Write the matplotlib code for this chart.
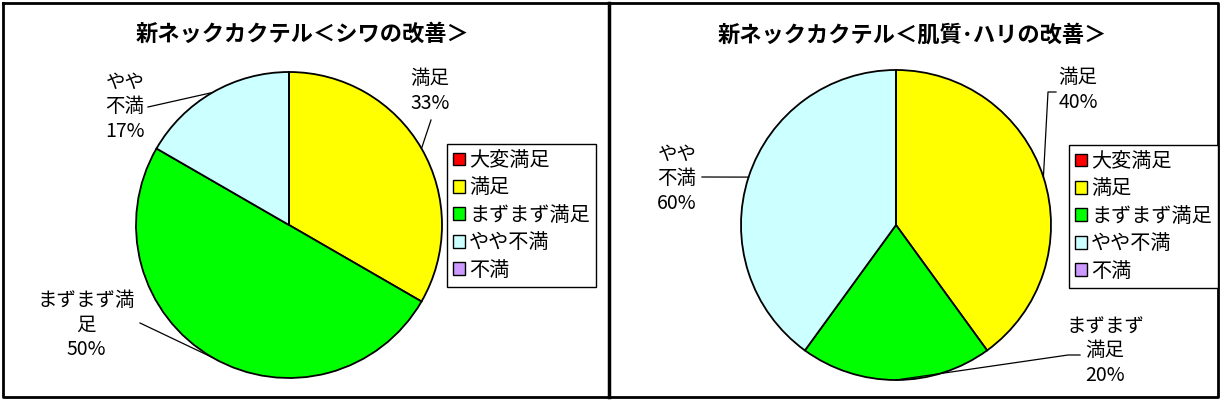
import matplotlib
matplotlib.use('Agg')
import matplotlib.pyplot as plt
import numpy as np
from matplotlib.patches import Patch

plt.rcParams['font.family'] = ['Noto Sans CJK JP', 'DejaVu Sans']

# データ
categories = ['大変満足', '満足', 'まずまず満足', 'やや不満', '不満']
colors = ['#FF0000', '#FFFF00', '#00FF00', '#CCFFFF', '#CC99FF']

left_title = '新ネックカクテル＜シワの改善＞'
left_values = [0, 2, 3, 1, 0]
left_labels = ['', '満足\n33%', 'まずまず満\n足\n50%', 'やや\n不満\n17%', '']

right_title = '新ネックカクテル＜肌質･ハリの改善＞'
right_values = [0, 2, 1, 2, 0]
right_labels = ['', '満足\n40%', 'まずまず\n満足\n20%', 'やや\n不満\n60%', '']

W, H = 1224, 400
fig = plt.figure(figsize=(W / 100, H / 100), dpi=100)
ax = fig.add_axes([0, 0, 1, 1])


def py(y):
    # 画像座標(上から) -> データ座標
    return H - y


def draw_pie(values, labels, center, radius, label_pos, anchors):
    wedges, _ = ax.pie(values, colors=colors, startangle=90, counterclock=False,
                       center=(center[0], py(center[1])), radius=radius,
                       wedgeprops=dict(edgecolor='black', linewidth=1.3))
    for i, w in enumerate(wedges):
        if values[i] == 0:
            continue
        mid = np.deg2rad((w.theta1 + w.theta2) / 2)
        ex = center[0] + radius * np.cos(mid)
        ey = py(center[1]) + radius * np.sin(mid)
        tx, ty = label_pos[i]
        ax.text(tx, py(ty), labels[i], ha='center', va='center', fontsize=14,
                linespacing=1.2)
        pts = anchors[i]
        xs = [ex] + [p[0] for p in pts]
        ys = [ey] + [py(p[1]) for p in pts]
        ax.plot(xs, ys, color='black', linewidth=0.9)


draw_pie(left_values, left_labels, (289, 225), 153,
         {1: (430, 91), 2: (86, 325), 3: (125, 107)},
         {1: [(431, 120)], 2: [(140, 323)], 3: [(148, 107)]})

draw_pie(right_values, right_labels, (896, 225), 155,
         {1: (1078, 90), 2: (1105, 351), 3: (677, 179)},
         {1: [(1048, 92), (1056, 92)], 2: [(1068, 355), (1080, 355)],
          3: [(702, 177)]})

ax.set_xlim(0, W)
ax.set_ylim(0, H)
ax.set_aspect('auto')
ax.axis('off')

# タイトル
ax.text(303, py(34), left_title, ha='center', va='center', fontsize=16,
        fontweight='bold')
ax.text(912, py(35), right_title, ha='center', va='center', fontsize=16,
        fontweight='bold')

# 枠線
ax.plot([3, 1218, 1218, 3, 3], [py(3), py(3), py(397), py(397), py(3)],
        color='black', linewidth=2, clip_on=False)
ax.plot([609, 609], [py(3), py(397)], color='black', linewidth=2.5)

# 凡例
handles = [Patch(facecolor=c, edgecolor='black', linewidth=1) for c in colors]
for (lx, ly) in [(447, 144), (1069, 145)]:
    leg = fig.legend(handles, categories, loc='upper left',
                     bbox_to_anchor=(lx / W, 1 - ly / H), fontsize=14.5,
                     frameon=True, fancybox=False, framealpha=1,
                     edgecolor='black', handlelength=0.6, handleheight=0.6,
                     handletextpad=0.2, labelspacing=0.32, borderpad=0.3,
                     borderaxespad=0)
    leg.get_frame().set_linewidth(1)

fig.savefig('out.png', dpi=100)
